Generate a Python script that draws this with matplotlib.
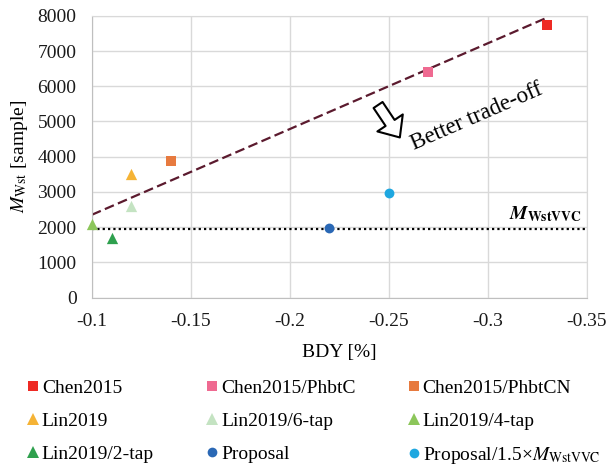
import matplotlib
matplotlib.use("Agg")
import matplotlib.pyplot as plt
from matplotlib.lines import Line2D

plt.rcParams['font.family'] = ['Liberation Serif', 'DejaVu Serif']
plt.rcParams['mathtext.fontset'] = 'stix'

# ---- data ----
series_names = ["Chen2015", "Chen2015/PhbtC", "Chen2015/PhbtCN",
                "Lin2019", "Lin2019/6-tap", "Lin2019/4-tap",
                "Lin2019/2-tap", "Proposal",
                r"Proposal/1.5×$M_{\mathrm{WstVVC}}$"]
bdy = [-0.33, -0.27, -0.14, -0.12, -0.12, -0.10, -0.11, -0.22, -0.25]
mwst = [7750, 6400, 3880, 3500, 2600, 2080, 1700, 1980, 2960]
markers = ["s", "s", "s", "^", "^", "^", "^", "o", "o"]
colors = ["#EE2A24", "#EF6A91", "#E77A3F", "#F5B335", "#C4E3C2",
          "#8CC65A", "#2FA04E", "#2A68B5", "#1EA7E0"]

trend_x = [-0.10, -0.33]
trend_y = [2350, 7950]
vvc_level = 1950

x_ticks = [-0.10, -0.15, -0.20, -0.25, -0.30, -0.35]
x_tick_labels = ["-0.1", "-0.15", "-0.2", "-0.25", "-0.3", "-0.35"]
y_ticks = [0, 1000, 2000, 3000, 4000, 5000, 6000, 7000, 8000]

fig = plt.figure(figsize=(6.08, 4.66), dpi=100)
ax = fig.add_axes([0.151, 0.3615, 0.814, 0.6045])

ax.set_xlim(-0.10, -0.35)
ax.set_ylim(0, 8000)
ax.set_xticks(x_ticks)
ax.set_xticklabels(x_tick_labels)
ax.set_yticks(y_ticks)
ax.tick_params(length=0, labelsize=14, colors="#1a1a1a")
ax.tick_params(axis="x", pad=11)
ax.tick_params(axis="y", pad=11)
ax.grid(True, color="#D9D9D9", lw=1)
ax.set_axisbelow(True)
for s in ax.spines.values():
    s.set_color("#D9D9D9")
ax.spines['left'].set_color("#BFBFBF")
ax.spines['bottom'].set_color("#BFBFBF")

# trend line
ax.plot(trend_x, trend_y, color="#5B1A2E", lw=1.6, dashes=(4.4, 2.0), zorder=2)
# VVC level line
ax.plot([x_ticks[0], x_ticks[-1]], [vvc_level, vvc_level], color="black",
        lw=1.6, linestyle=(0, (1, 1.4)), zorder=2)
ax.text(-0.3475, vvc_level + 150, r"$\mathbfit{M}_{\mathbf{WstVVC}}$",
        ha="right", va="bottom", fontsize=14)

sizes = {"s": 48, "^": 66, "o": 50}
handles = []
for name, x, y, m, c in zip(series_names, bdy, mwst, markers, colors):
    ax.scatter([x], [y], marker=m, s=sizes[m], color=c, zorder=3, clip_on=False,
               linewidths=0)
    handles.append(Line2D([], [], marker=m, color=c, linestyle="none",
                          markersize=7 if m != "^" else 8, markeredgewidth=0,
                          label=name))

# arrow and annotation
ax.annotate("", xy=(-0.2556, 4546), xytext=(-0.2446, 5468),
            arrowprops=dict(arrowstyle="simple,head_width=2.2,head_length=1.26,tail_width=0.78",
                            mutation_scale=10, shrinkA=0, shrinkB=0,
                            fc="white", ec="black", lw=1.5))
ax.text(-0.2942, 5121, "Better trade-off", rotation=23.5, fontsize=16.5,
        ha="center", va="center", rotation_mode="anchor")

ax.set_ylabel(r"$M_{\mathrm{Wst}}$ [sample]", fontsize=14, labelpad=5)
ax.set_xlabel("BDY [%]", fontsize=14, labelpad=10)

order = [0, 3, 6, 1, 4, 7, 2, 5, 8]
fig.legend([handles[i] for i in order], [series_names[i] for i in order],
           ncol=3, loc="upper left", bbox_to_anchor=(0.0463, 0.1862),
           frameon=False, fontsize=14, handlelength=0.5, handletextpad=0.2,
           columnspacing=2.75, labelspacing=0.79, borderaxespad=0, borderpad=0)

fig.savefig("out.png", dpi=100)
